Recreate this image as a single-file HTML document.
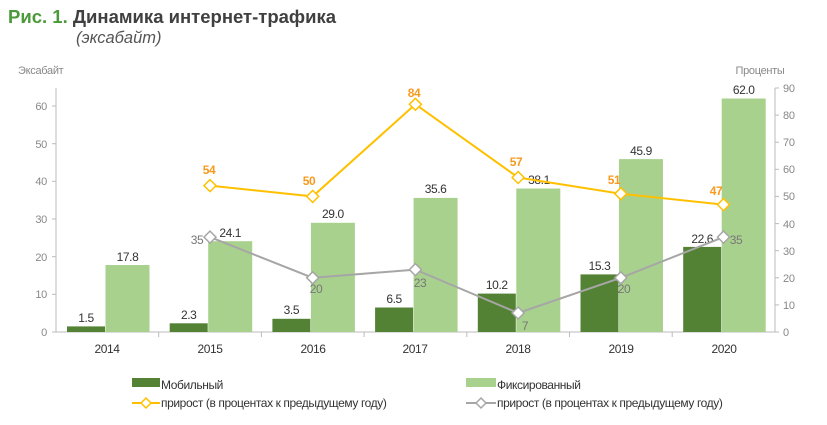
<!DOCTYPE html>
<html><head><meta charset="utf-8"><style>
body{margin:0;background:#fff;}
svg{display:block;font-family:"Liberation Sans",Arial,sans-serif;}
.t{font-size:12px;fill:#333;letter-spacing:-0.4px}
.ax{font-size:11px;fill:#888;letter-spacing:-0.3px}
.o{font-size:12px;fill:#f79a1e;font-weight:bold;letter-spacing:-0.4px}
.g{font-size:12px;fill:#777;letter-spacing:-0.4px}
</style></head><body>
<svg width="827" height="425" viewBox="0 0 827 425">
<text x="8" y="23" font-size="18.5" font-weight="bold" fill="#4a9a3a">Рис. 1. <tspan fill="#404040">Динамика интернет-трафика</tspan></text>
<text x="76" y="43" font-size="16.5" font-style="italic" fill="#555">(эксабайт)</text>
<text x="18" y="74" class="ax">Эксабайт</text>
<text x="760" y="74" class="ax" text-anchor="middle">Проценты</text>
<g stroke="#bbb" stroke-width="1">
<line x1="56" y1="88" x2="56" y2="332"/>
<line x1="775" y1="88" x2="775" y2="332"/>
<line x1="56" y1="332" x2="775" y2="332"/>
<line x1="52" y1="332" x2="56" y2="332"/><line x1="52" y1="294.3" x2="56" y2="294.3"/><line x1="52" y1="256.7" x2="56" y2="256.7"/><line x1="52" y1="219" x2="56" y2="219"/><line x1="52" y1="181.3" x2="56" y2="181.3"/><line x1="52" y1="143.7" x2="56" y2="143.7"/><line x1="52" y1="106" x2="56" y2="106"/>
<line x1="775" y1="332" x2="779" y2="332"/><line x1="775" y1="304.9" x2="779" y2="304.9"/><line x1="775" y1="277.8" x2="779" y2="277.8"/><line x1="775" y1="250.7" x2="779" y2="250.7"/><line x1="775" y1="223.6" x2="779" y2="223.6"/><line x1="775" y1="196.4" x2="779" y2="196.4"/><line x1="775" y1="169.3" x2="779" y2="169.3"/><line x1="775" y1="142.2" x2="779" y2="142.2"/><line x1="775" y1="115.1" x2="779" y2="115.1"/><line x1="775" y1="88" x2="779" y2="88"/>
<line x1="158.7" y1="332" x2="158.7" y2="337"/><line x1="261.4" y1="332" x2="261.4" y2="337"/><line x1="364.1" y1="332" x2="364.1" y2="337"/><line x1="466.8" y1="332" x2="466.8" y2="337"/><line x1="569.5" y1="332" x2="569.5" y2="337"/><line x1="672.2" y1="332" x2="672.2" y2="337"/>
</g>
<g class="ax" text-anchor="end">
<text x="47" y="336">0</text><text x="47" y="298">10</text><text x="47" y="261">20</text><text x="47" y="223">30</text><text x="47" y="185">40</text><text x="47" y="148">50</text><text x="47" y="110">60</text>
</g>
<g class="ax">
<text x="783" y="336">0</text><text x="783" y="309">10</text><text x="783" y="282">20</text><text x="783" y="255">30</text><text x="783" y="228">40</text><text x="783" y="200">50</text><text x="783" y="173">60</text><text x="783" y="146">70</text><text x="783" y="119">80</text><text x="783" y="92">90</text>
</g>
<g class="t" text-anchor="middle">
<text x="107" y="353">2014</text><text x="210" y="353">2015</text><text x="313" y="353">2016</text><text x="415" y="353">2017</text><text x="518" y="353">2018</text><text x="621" y="353">2019</text><text x="724" y="353">2020</text>
</g>
<g fill="#548235">
<rect x="67" y="326.4" width="38" height="5.6"/>
<rect x="169.7" y="323.3" width="38" height="8.7"/>
<rect x="272.4" y="318.8" width="38" height="13.2"/>
<rect x="375.1" y="307.5" width="38" height="24.5"/>
<rect x="477.8" y="293.6" width="38" height="38.4"/>
<rect x="580.5" y="274.4" width="38" height="57.6"/>
<rect x="683.2" y="246.9" width="38" height="85.1"/>
</g>
<g fill="#a9d18e">
<rect x="105.5" y="265" width="44" height="67"/>
<rect x="208.2" y="241.2" width="44" height="90.8"/>
<rect x="310.9" y="222.8" width="44" height="109.2"/>
<rect x="413.6" y="197.9" width="44" height="134.1"/>
<rect x="516.3" y="188.5" width="44" height="143.5"/>
<rect x="619" y="159.1" width="44" height="172.9"/>
<rect x="721.7" y="98.5" width="44" height="233.5"/>
</g>
<g class="t" text-anchor="middle">
<text x="86" y="322">1.5</text><text x="127.5" y="261">17.8</text>
<text x="188.7" y="319">2.3</text><text x="230.2" y="237">24.1</text>
<text x="291.4" y="314">3.5</text><text x="332.9" y="218">29.0</text>
<text x="394.1" y="303">6.5</text><text x="435.6" y="193">35.6</text>
<text x="496.8" y="289">10.2</text><text x="539" y="184">38.1</text>
<text x="599.5" y="270">15.3</text><text x="641" y="155">45.9</text>
<text x="702.2" y="243">22.6</text><text x="743.7" y="94">62.0</text>
</g>
<polyline points="210,237.1 312.7,277.8 415.4,269.6 518.1,313 620.8,277.8 723.5,237.1" fill="none" stroke="#a6a6a6" stroke-width="2"/>
<polyline points="210,185.6 312.7,196.4 415.4,104.3 518.1,177.5 620.8,193.7 723.5,204.6" fill="none" stroke="#ffc000" stroke-width="2"/>
<g fill="#fff" stroke="#a6a6a6" stroke-width="1.5">
<path d="M210 231.1l6 6-6 6-6-6z"/><path d="M312.7 271.8l6 6-6 6-6-6z"/><path d="M415.4 263.6l6 6-6 6-6-6z"/><path d="M518.1 307l6 6-6 6-6-6z"/><path d="M620.8 271.8l6 6-6 6-6-6z"/><path d="M723.5 231.1l6 6-6 6-6-6z"/>
</g>
<g fill="#fff" stroke="#ffc000" stroke-width="1.5">
<path d="M210 179.6l6 6-6 6-6-6z"/><path d="M312.7 190.4l6 6-6 6-6-6z"/><path d="M415.4 98.3l6 6-6 6-6-6z"/><path d="M518.1 171.5l6 6-6 6-6-6z"/><path d="M620.8 187.7l6 6-6 6-6-6z"/><path d="M723.5 198.6l6 6-6 6-6-6z"/>
</g>
<g class="o" text-anchor="middle">
<text x="209" y="174">54</text><text x="309" y="185">50</text><text x="414" y="97">84</text><text x="516" y="166">57</text><text x="614" y="184">51</text><text x="716" y="195">47</text>
</g>
<g class="g" text-anchor="middle">
<text x="197" y="244">35</text><text x="316" y="293">20</text><text x="420" y="287">23</text><text x="525" y="330">7</text><text x="624" y="293">20</text><text x="736" y="244">35</text>
</g>
<rect x="132" y="378" width="28" height="9" fill="#548235"/>
<text x="161" y="389" class="t">Мобильный</text>
<rect x="466" y="378" width="30" height="9" fill="#a9d18e"/>
<text x="497" y="389" class="t">Фиксированный</text>
<line x1="132" y1="403" x2="160" y2="403" stroke="#ffc000" stroke-width="2"/>
<path d="M146 398l5 5-5 5-5-5z" fill="#fff" stroke="#ffc000" stroke-width="1.5"/>
<text x="161" y="407" class="t">прирост (в процентах к предыдущему году)</text>
<line x1="466" y1="403" x2="496" y2="403" stroke="#a6a6a6" stroke-width="2"/>
<path d="M481 398l5 5-5 5-5-5z" fill="#fff" stroke="#a6a6a6" stroke-width="1.5"/>
<text x="497" y="407" class="t">прирост (в процентах к предыдущему году)</text>
</svg>
</body></html>
